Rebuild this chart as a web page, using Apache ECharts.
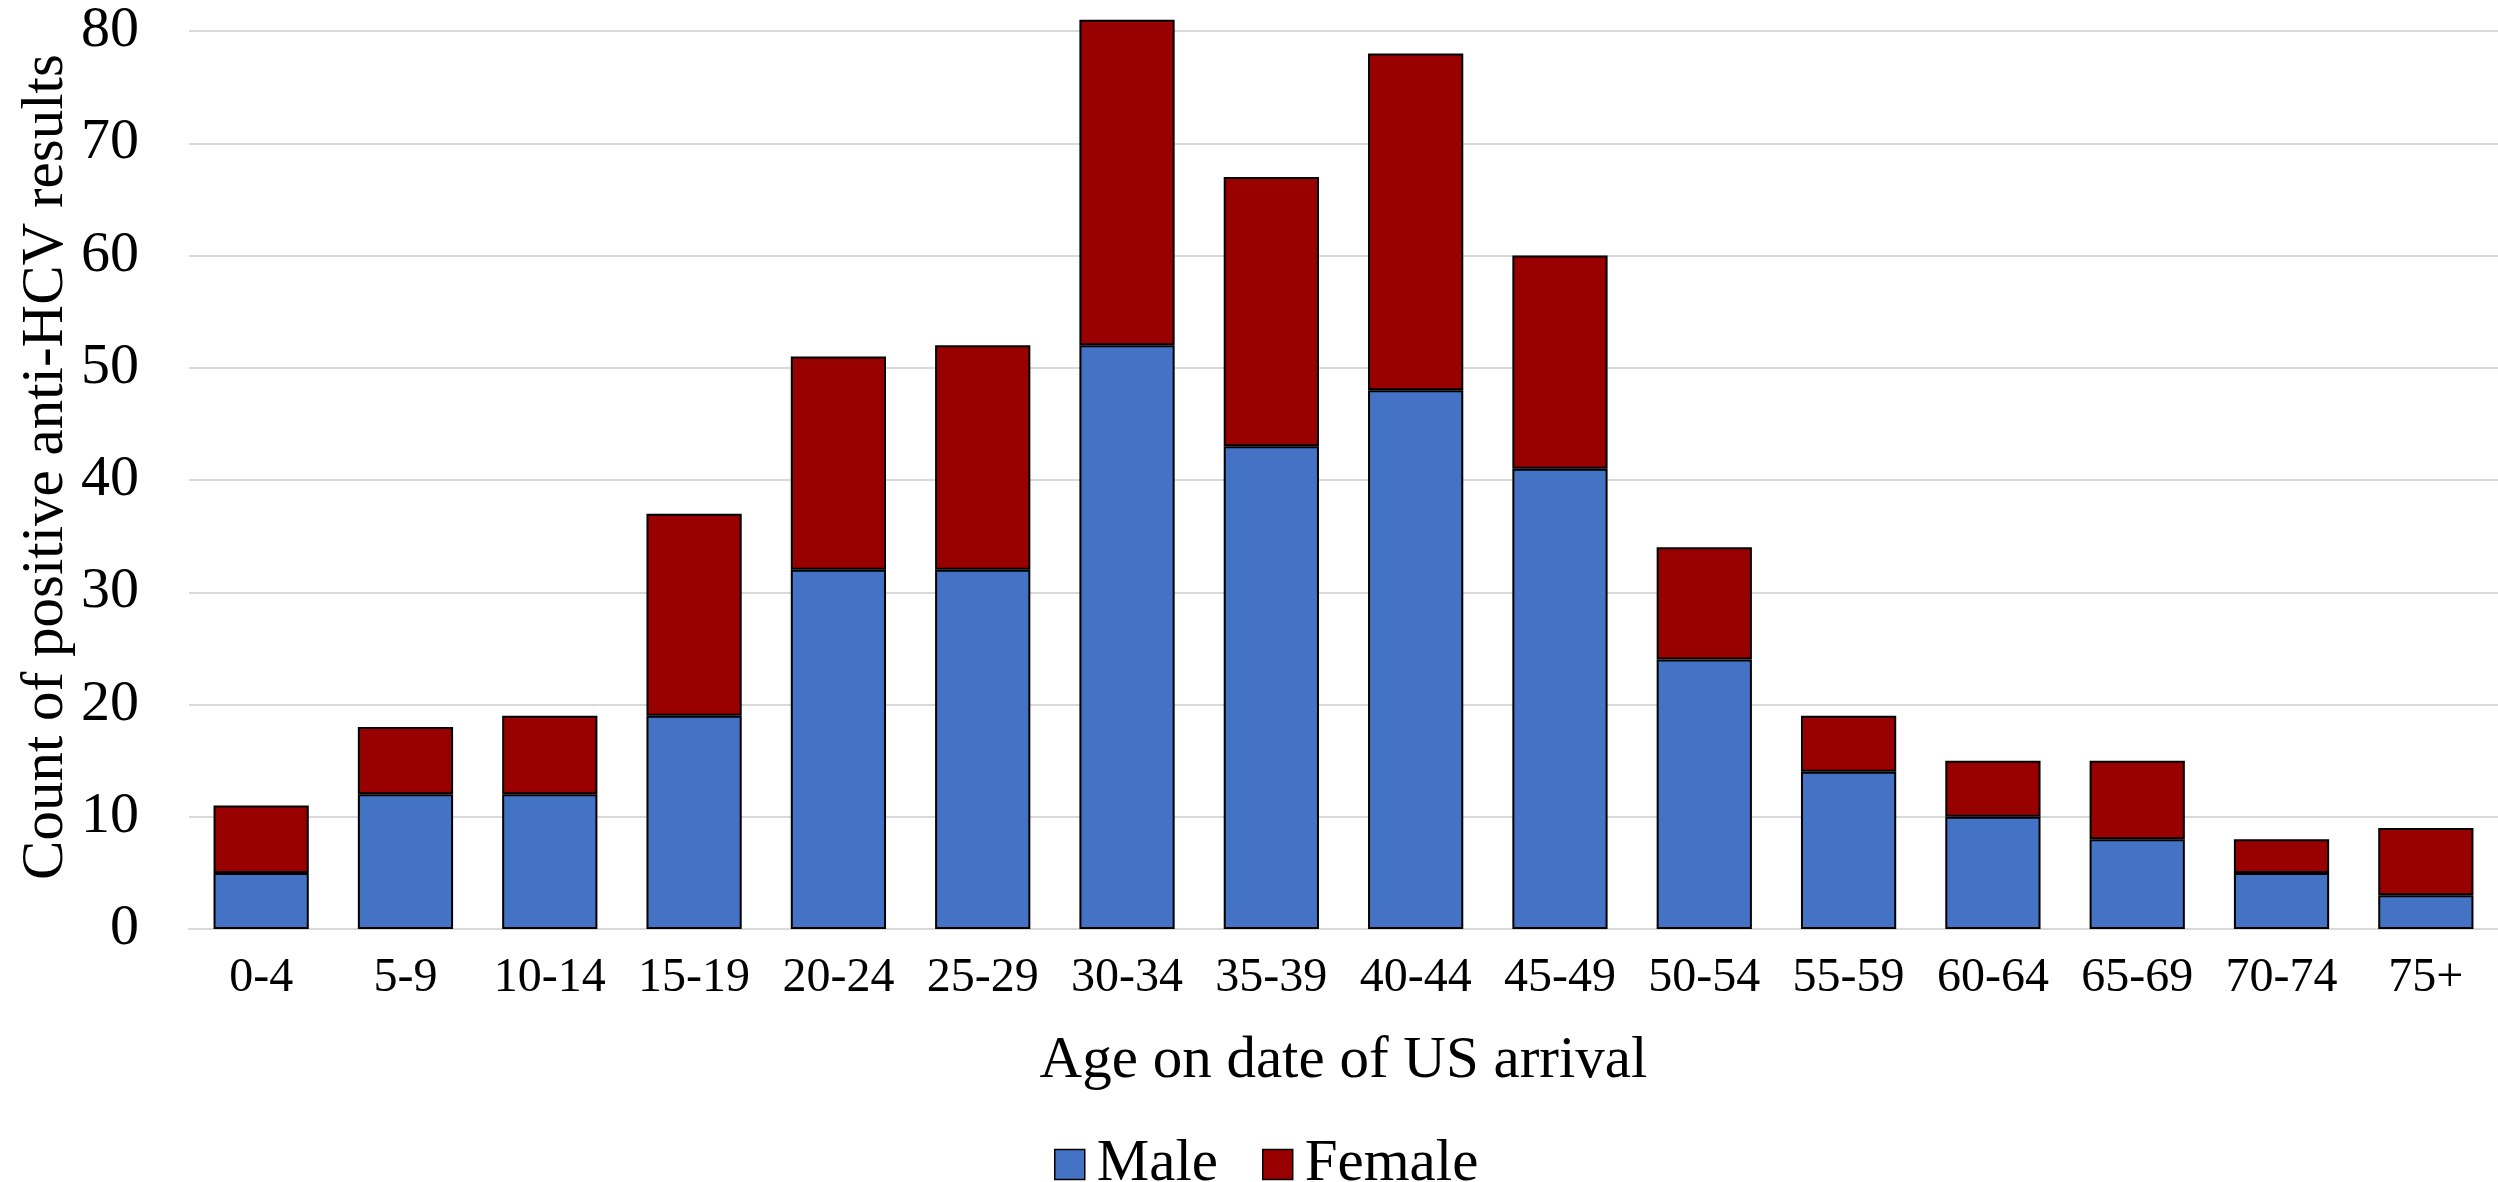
<!DOCTYPE html>
<html>
<head>
<meta charset="utf-8">
<script src="https://cdn.jsdelivr.net/npm/echarts@6/dist/echarts.min.js"></script>
<style>
html,body{margin:0;padding:0;background:#fff;}
#chart{width:2498px;height:1182px;}
</style>
</head>
<body>
<div id="chart"></div>
<script>
const categories = ['0-4','5-9','10-14','15-19','20-24','25-29','30-34','35-39','40-44','45-49','50-54','55-59','60-64','65-69','70-74','75+'];
const maleValues = [5,12,12,19,32,32,52,43,48,41,24,14,10,8,5,3];
const femaleValues = [6,6,7,18,19,20,29,24,30,19,10,5,5,7,3,6];
const yAxisTitle = 'Count of positive anti-HCV results';
const xAxisTitle = 'Age on date of US arrival';

const FONT = "'Liberation Serif', 'Times New Roman', serif";
const chart = echarts.init(document.getElementById('chart'));
chart.setOption({
  animation: false,
  backgroundColor: '#ffffff',
  textStyle: { fontFamily: FONT, color: '#000' },
  grid: { left: 189, top: 31, width: 2313, bottom: 253, containLabel: false },
  legend: {
    data: ['Male', 'Female'],
    left: 1049,
    top: 1130,
    itemWidth: 30,
    itemHeight: 30,
    itemGap: 44,
    icon: 'rect',
    itemStyle: { borderColor: '#000', borderWidth: 1.5 },
    textStyle: { fontFamily: FONT, fontSize: 59, color: '#000', padding: [0, 0, 0, 7] }
  },
  xAxis: {
    type: 'category',
    data: categories,
    name: xAxisTitle,
    nameLocation: 'middle',
    nameGap: 103,
    nameMoveOverlap: false,
    nameTextStyle: { fontFamily: FONT, fontSize: 59, color: '#000' },
    axisLine: { show: true, lineStyle: { color: '#d9d9d9', width: 2 } },
    axisTick: { show: false },
    axisLabel: { fontFamily: FONT, fontSize: 48, color: '#000', margin: 25, interval: 0 }
  },
  yAxis: {
    type: 'value',
    min: 0,
    max: 80,
    interval: 10,
    name: yAxisTitle,
    nameLocation: 'middle',
    nameRotate: 90,
    nameGap: 113,
    nameMoveOverlap: false,
    nameTextStyle: { fontFamily: FONT, fontSize: 59, color: '#000', padding: [0, 0, 0, 26] },
    axisLine: { show: false },
    axisTick: { show: false },
    axisLabel: { fontFamily: FONT, fontSize: 58, color: '#000', margin: 50 },
    splitLine: { show: true, lineStyle: { color: '#d9d9d9', width: 2 } }
  },
  series: [
    {
      name: 'Male',
      type: 'bar',
      stack: 'total',
      data: maleValues,
      clip: false,
      barCategoryGap: '34%',
      itemStyle: { color: '#4472C4', borderColor: '#000', borderWidth: 2 }
    },
    {
      name: 'Female',
      type: 'bar',
      stack: 'total',
      data: femaleValues,
      clip: false,
      barCategoryGap: '34%',
      itemStyle: { color: '#990000', borderColor: '#000', borderWidth: 2 }
    }
  ]
});
</script>
</body>
</html>
